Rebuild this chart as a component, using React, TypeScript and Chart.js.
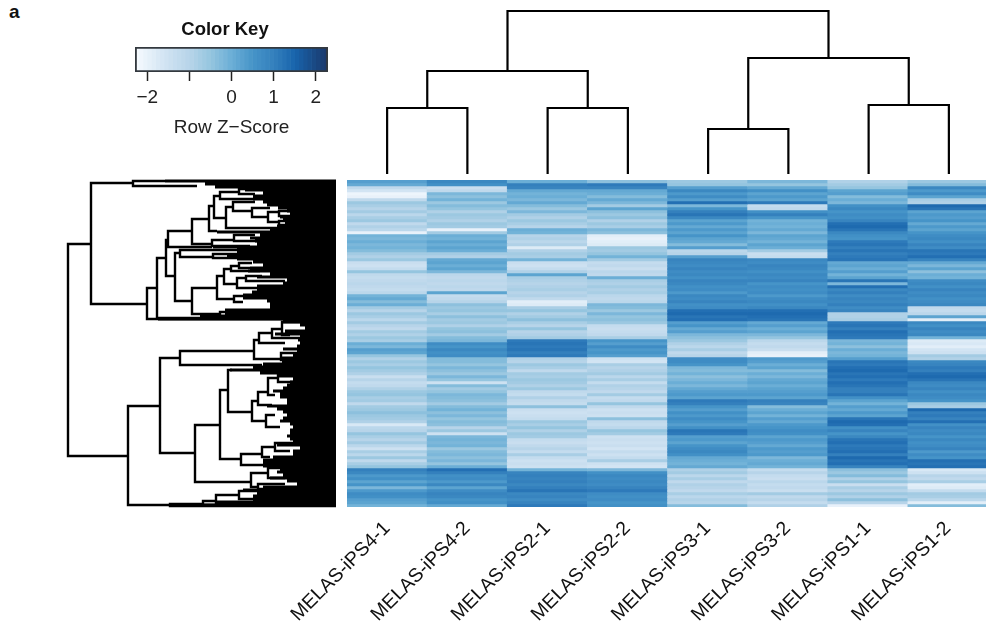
import React, { useEffect, useRef } from "react";
import { Chart, registerables } from "chart.js";

Chart.register(...registerables);

const FONT = '"Liberation Sans", Arial, sans-serif';

const samples = ["MELAS-iPS4-1", "MELAS-iPS4-2", "MELAS-iPS2-1", "MELAS-iPS2-2", "MELAS-iPS3-1", "MELAS-iPS3-2", "MELAS-iPS1-1", "MELAS-iPS1-2"];

const ips41 = [0.3,0.1,-1.2,-1.6,-2.1,-2.0,-1.2,-0.6,-0.8,-1.0,-0.7,-1.1,-0.8,-0.6,-1.2,-0.9,-1.1,-2.0,-0.1,-0.2,0,-0.2,-0.1,-0.3,-0.7,-0.9,-0.6,-1.4,-1.5,-1.3,-0.5,-1.2,-1.3,-1.2,-1.1,-1.2,-1.3,-1.1,-0.1,0.1,-0.3,0,-0.7,-1,-0.6,-0.8,-1.1,-0.7,-1.0,-1.2,-0.7,-0.9,-0.6,-0.8,0,-0.2,0.3,0.2,-0.5,-0.9,-0.6,-0.8,-0.5,-0.7,-0.9,-1.4,-1.0,-1.3,-1.2,-0.9,-0.6,-0.5,-0.8,-0.7,-1.2,-0.7,-0.6,-0.4,-0.6,-0.7,-0.9,-1.7,-1.1,-1.0,-0.5,-0.8,-1.0,-0.7,-1.1,-1.5,-0.8,-1.1,-0.6,-1.2,-0.8,-0.5,1.0,0.8,0.4,0.6,0.2,0.5,-0.2,0.4,0.7,0.6,0.3,0.2,-0.1];
const ips42 = [0.8,0.6,-1.4,-1.2,-0.2,-0.4,-0.1,-0.6,-0.3,-0.5,-0.9,-0.6,-0.7,-0.9,-0.6,-0.7,-2.0,-0.7,0,-0.1,0.2,0,0.2,0,-0.7,-0.9,0.1,0.2,0,0.2,-0.2,-1.1,-1.2,-1.1,-1.2,-1.1,-1.2,0.2,-1.3,-1.2,-1.0,-0.4,-0.6,-0.5,-0.8,-0.4,-0.7,-0.6,-0.9,-0.5,-0.4,-0.7,-0.3,-0.2,0.7,0.5,0.8,0.6,0.7,-0.3,-0.3,-0.5,-0.2,-0.4,-0.6,-0.2,-0.5,-1.5,-0.3,-0.7,-0.5,-0.2,-0.3,-0.4,-0.7,-0.3,-0.1,-0.4,-0.2,-0.5,-0.3,-0.4,-1.0,-0.6,-1.5,-0.2,-0.1,-0.2,-0.1,-0.6,-0.3,-0.2,-0.4,-0.2,-0.5,0,1.3,1.0,0.6,0.7,0.4,0.8,0.2,0.7,0.9,0.8,0.5,0.6,0.1];
const ips21 = [0,1.0,0.9,0.1,-0.1,0,-0.2,0.1,-0.3,-0.6,-0.2,-0.7,-0.9,-0.6,-0.8,-1.0,0,-0.1,-1.0,-0.9,-1.1,-0.9,-1.8,-0.9,-0.7,-0.8,-0.1,-1.4,-1.5,-1.3,-0.9,0.2,-0.8,-0.9,-1,-0.9,-0.8,-1,-0.9,-1.2,-1.9,-1.8,-0.8,-0.5,-0.9,-0.7,-0.4,-0.8,-1,-0.5,-1,-0.9,-0.7,1.1,1.2,1.1,1.2,1.0,1.1,-0.9,-1.0,-0.6,-0.8,-1.2,-0.7,-0.8,-0.6,-0.7,-0.9,-0.6,-1.2,-1.3,-0.9,-1.2,-1.3,-0.4,-1.4,-1.5,-1.4,-1.3,-0.6,-0.8,-0.5,-0.9,-0.6,-0.7,-1.3,-1.4,-1.2,-1.0,-1.3,-0.8,-1.3,-1.5,-1.4,-1.5,-0.1,0.9,1.0,0.9,1.0,0.8,1.0,1.2,0.8,0.9,0.7,0.9,1.1];
const ips22 = [-0.4,1.1,0.9,0.1,0,-0.3,0.1,-0.2,-0.7,0.2,-0.4,-0.6,-0.4,-0.9,-0.6,-0.8,-0.2,-0.4,-1.9,-2.0,-1.9,-1.8,-0.6,-0.7,-0.5,-0.1,-0.7,-1.3,-1.2,-1.4,-1.1,-1.2,0,-0.8,-0.9,-0.7,-0.9,-0.8,-1.1,-1.2,-1.1,-0.2,-0.3,-0.6,-0.2,-0.5,-0.4,-0.6,-1.3,-1.4,-1.3,-1.2,-0.8,0.5,0.3,0.7,0.4,0.5,0.3,-1.5,-1.6,-0.8,-1.0,-0.9,-0.7,-1.1,-0.8,-1.3,-0.9,-1.0,-1.2,-0.7,-1.3,-1.2,-0.5,-1.2,-1.5,-1.4,-1.5,-0.4,-1.2,-1.3,-1.1,-0.5,-0.7,-1.5,-1.4,-1.5,-1.4,-1.6,-1.3,-1.5,-1.3,-0.8,-1.5,-1.6,-0.2,0.6,0.8,0.7,0.8,0.7,0.9,1.1,0.7,0.6,0.7,0.5,0.6];
const ips31 = [-0.6,-0.5,0.3,0.8,0.4,0.7,0.3,1.3,-0.2,0.5,1.0,1.2,0.8,0.2,0.4,0.1,0.4,0.2,0.5,0.2,0.1,-0.3,0.3,-1.1,-1.0,0.3,0.9,0.8,0.7,0.9,0.7,0.8,0.6,0.9,0.8,0.6,0.7,0.4,0.8,0.7,0.9,0.6,0.7,1.3,1.4,1.2,1.3,0.3,0.5,0.1,0.3,-0.2,-0.4,-0.6,-0.9,-1.1,-0.8,-1.2,-1.0,0.7,0.7,0.5,-0.2,-0.3,-0.1,-0.4,-0.2,0,-0.2,0.1,0.3,0.4,0.2,1.1,1.0,0.5,0.3,0.6,0.4,0.7,0.5,0.3,0.6,1.2,1.1,0.3,0.4,0.2,0.5,0.7,0.8,0.6,0.1,0,-0.1,0.1,-0.9,-0.7,-1.1,-0.8,-1.2,-0.9,-1.0,-1.2,-0.8,-1.1,-0.9,-1.0,-0.3];
const ips32 = [-0.2,-0.5,0.1,0.6,0.2,0.4,0.2,1.1,-1.3,-1.2,0.6,1.0,0.5,-0.1,0,-0.1,0.1,-0.2,0.2,0.1,-0.1,0.2,0,-0.7,-1.4,-1.3,0.8,0.7,0.9,0.8,0.6,0.8,0.7,0.9,0.5,0.7,0.6,0.7,0.4,0.7,0.8,0.6,0.8,1.3,1.4,1.3,1.2,0.1,0.3,0,0.2,-0.2,-0.5,-1.1,-1.3,-1.2,-1.4,-1.9,-2.0,0.4,0.3,0,0.2,-0.3,0,-0.2,0.1,0.2,0,0.2,0.3,0.4,0.2,1.0,0.9,-0.3,0,0.2,-0.1,0.3,0.1,0.4,0.5,0.7,0.6,0.2,0.4,0.3,0.1,0.4,0.3,0.4,-0.2,0,0.1,-0.1,-1.3,-1.0,-1.3,-1.4,-1.1,-1.3,-1.2,-1.4,-0.7,-1.2,-1.0,-1.3,-0.9];
const ips11 = [-0.9,-0.7,-0.5,0.2,0.3,-0.3,0,-0.2,0.6,0.8,0.5,0.7,0.6,0.9,1.3,1.4,1.2,0.8,0.6,0.5,1.1,1.2,1.0,1.2,1.0,1.1,1.2,0.1,0.2,0,0.3,-0.1,0.2,1.2,-0.2,1.3,0.8,1.0,0.7,0.9,0.8,1.0,0.7,0.9,-0.9,-0.9,-0.8,1.1,1.2,1.0,1.3,1.2,1.1,-0.2,-0.1,-0.4,0,-0.2,-0.1,0.3,1.2,1.1,1.3,1.4,1.2,1.3,1.1,1.3,1.2,1.0,1.0,1.2,0.6,0.2,-0.1,0.3,0.1,0.4,0.2,1.2,1.4,1.3,0.6,0.9,0.5,0.8,1.2,1.3,1.1,1.2,1.3,1.0,1.4,1.2,1.3,0.9,-0.4,-0.6,-0.3,-0.9,-0.5,-1.4,-0.8,-1.0,-0.6,-0.9,-0.4,-1.0,-2.0];
const ips12 = [-0.6,-0.3,0.8,0.4,0.7,0.2,-0.8,-0.9,1.4,1.2,0.2,0.4,0.3,0.5,0.1,0.4,0.2,0.5,0.7,0.8,0.6,0.9,0.7,1.2,1.1,1.3,0.9,0.1,-0.2,0.2,-0.4,0,-0.1,0.7,0.8,0.6,0.9,0.7,0.8,0.6,0.7,0.8,-1.2,-1.3,-1.1,0.2,-1.9,0.8,0.6,0.9,0.7,0.8,-0.1,-1.8,-1.7,-1.9,-1.6,-1.5,-0.7,-0.9,0.8,0.9,1.1,1.0,1.3,1.4,1.2,0.8,0.7,0.9,0.6,0.8,0.7,0.5,-0.6,-0.8,1.4,1.0,1.1,0.9,1.3,0.6,0.9,0.7,0.8,0.5,0.8,0.6,0.7,0.9,0.4,0.7,0.5,1.3,1.2,1.3,-1.7,-1.5,-1.0,-1.2,-0.8,-1.9,-1.8,-1.3,-0.7,-0.8,-1.1,-1.9,-0.3];
const heatColumns = [ips41, ips42, ips21, ips22, ips31, ips32, ips11, ips12];

// Colour key
const keyBreaks = [-2.29,-2.2,-2.1,-2.0,-1.9,-1.8,-1.7,-1.6,-1.5,-1.4,-1.3,-1.2,-1.1,-1.0,-0.9,-0.8,-0.7,-0.6,-0.5,-0.4,-0.3,-0.2,-0.1,0.02,0.1,0.2,0.3,0.4,0.5,0.6,0.7,0.8,0.9,1.0,1.1,1.2,1.3,1.4,1.5,1.6,1.7,1.8,1.9,2.0,2.1,2.2,2.29];
const keyTicks = [-2, -1, 0, 1, 2];
const keyTickLabels = ["\u22122", "", "0", "1", "2"];

// Column dendrogram: [height, left position, right position, left child height, right child height]
const columnMerges = [
  [163, 2, 6, 103, 116],
  [103, 1, 3, 66, 66],
  [66, 0.5, 1.5, 0, 0],
  [66, 2.5, 3.5, 0, 0],
  [116, 5, 7, 45, 69],
  [45, 4.5, 5.5, 0, 0],
  [69, 6.5, 7.5, 0, 0],
];

// Row dendrogram: [height, upper row, lower row, upper child height, lower child height]
const rowMerges = [
  [268,64,276,245,208],[245,3,124,203,189],[203,1,6,171,139],[189,108,139,179,0],[179,78,138,170,136],
  [170,60,96,168,161],[168,51,67,144,124],[144,39,64,127,124],[127,26,51,122,119],[122,16,38,116,110],
  [116,12,19,97,81],[97,9,14,86,81],[110,27,48,103,53],[103,22,31,81,84],[84,28,37,66,68],
  [68,32,42,57,57],[57,31,36,46,46],[57,41,45,48,48],[124,60,66,102,86],[102,55,61,81,78],
  [161,73,121,156,144],[156,70,77,96,123],[123,74,78,96,96],[144,108,134,119,116],[119,96,119,112,102],
  [112,89,104,105,99],[105,86,91,97,76],[97,83,88,84,86],[99,98,108,90,79],[90,96,101,74,51],
  [102,116,122,86,93],[116,132,137,111,100],[208,226,325,176,166],[176,178,273,156,141],[156,171,185,82,74],
  [82,160,179,77,55],[77,153,163,64,51],[64,149,158,54,36],[54,142,155,36,46],[55,173,180,39,46],
  [141,245,302,116,85],[116,210,279,108,95],[108,190,232,104,84],[84,221,241,78,70],[78,212,225,68,64],
  [68,198,215,58,61],[58,193,202,46,43],[70,235,247,61,56],[95,274,285,74,66],[74,267,277,61,66],
  [61,263,271,41,46],[85,293,307,68,78],[68,288,298,56,51],[78,304,309,51,66],[166,324,326,133,0],
  [133,321,325,120,0],[120,315,323,97,0],[97,311,319,78,76],
];

// Height at which each block of leaves joins the tree, top to bottom
const leafHeights = [171,131,121,91,73,83,83,73,69,58,49,46,56,53,51,59,66,119,76,86,81,79,123,99,99,109,99,83,73,86,88,66,79,49,53,79,79,84,93,93,69,66,66,111,111,136,178,53,36,31,51,61,36,38,36,39,53,39,43,54,54,73,83,106,76,58,43,46,49,53,63,56,56,49,49,69,59,53,49,53,56,46,43,46,46,49,46,43,59,36,43,43,63,73,73,73,56,59,53,66,49,39,73,93,79,83,83,119,166];

const colorStops: [number, number[]][] = [
  [-2.29, [247, 251, 255]],
  [-1.5, [205, 225, 241]],
  [-1, [183, 212, 233]],
  [-0.5, [149, 197, 223]],
  [0, [107, 174, 214]],
  [0.5, [70, 148, 200]],
  [1, [52, 128, 189]],
  [1.5, [24, 100, 172]],
  [2.29, [27, 54, 104]],
];

function colorFor(z: number) {
  for (let i = 1; i < colorStops.length; i++) {
    const [z1, c1] = colorStops[i];
    const [z0, c0] = colorStops[i - 1];
    if (z <= z1) {
      const t = Math.max(0, (z - z0) / (z1 - z0));
      const c = c0.map((v, k) => Math.round(v + (c1[k] - v) * t));
      return `rgb(${c[0]},${c[1]},${c[2]})`;
    }
  }
  return "rgb(27,54,104)";
}

const BASE = {
  responsive: false,
  animation: false as const,
  events: [] as string[],
  plugins: { legend: { display: false }, tooltip: { enabled: false }, title: { display: false } },
  layout: { padding: 0 },
};

function columnTreePoints() {
  const pts: { x: number; y: number }[] = [];
  for (const [h, a, b, ha, hb] of columnMerges) {
    pts.push({ x: a, y: ha }, { x: a, y: h }, { x: b, y: h }, { x: b, y: hb }, { x: NaN, y: NaN });
  }
  return pts;
}

function rowTreePoints() {
  const pts: { x: number; y: number }[] = [];
  for (const [h, a, b, ha, hb] of rowMerges) {
    pts.push({ x: ha, y: a }, { x: h, y: a }, { x: h, y: b }, { x: hb, y: b }, { x: NaN, y: NaN });
  }
  return pts;
}

function leafPoints() {
  const pts: { x: number; y: number }[] = [];
  leafHeights.forEach((h, i) => {
    const row = 1 + i * 3;
    pts.push({ x: 0, y: row }, { x: h, y: row }, { x: NaN, y: NaN });
  });
  return pts;
}

function useChart(ref: React.RefObject<HTMLCanvasElement | null>, config: () => any) {
  useEffect(() => {
    if (!ref.current) return;
    const chart = new Chart(ref.current, config());
    return () => chart.destroy();
  }, []);
}

const sideSpacer = (width: number, position: string) => ({
  display: true,
  position,
  afterFit: (s: any) => {
    s.width = width;
  },
  grid: { display: false, drawTicks: false },
  border: { display: false },
  ticks: { display: false },
});

export default function App() {
  const keyRef = useRef<HTMLCanvasElement>(null);
  const topRef = useRef<HTMLCanvasElement>(null);
  const leftRef = useRef<HTMLCanvasElement>(null);
  const heatRef = useRef<HTMLCanvasElement>(null);

  useChart(keyRef, () => ({
    type: "bar",
    data: {
      labels: ["key"],
      datasets: [
        {
          data: [[keyBreaks[0], keyBreaks[keyBreaks.length - 1]]],
          backgroundColor: "rgba(0,0,0,0)",
          borderColor: "#33393f",
          borderWidth: 1.5,
          borderSkipped: false,
          order: 0,
        },
        ...keyBreaks.slice(1).map((hi, i) => ({
          data: [[keyBreaks[i], hi]],
          backgroundColor: colorFor((keyBreaks[i] + hi) / 2),
          borderWidth: 0,
          order: 1,
        })),
      ],
    },
    options: {
      ...BASE,
      indexAxis: "y",
      layout: { padding: 0 },
      datasets: { bar: { grouped: false, barPercentage: 1, categoryPercentage: 1 } },
      plugins: {
        ...BASE.plugins,
        title: {
          display: true,
          text: "Color Key",
          color: "#111",
          font: { family: FONT, size: 18.5, weight: "bold" },
          padding: { top: 4, bottom: 5.8 },
        },
      },
      scales: {
        y: { ...sideSpacer(35, "left"), type: "category" },
        yRight: { ...sideSpacer(22, "right"), type: "linear" },
        x: {
          type: "linear",
          min: keyBreaks[0],
          max: keyBreaks[keyBreaks.length - 1],
          afterBuildTicks: (s: any) => {
            s.ticks = keyTicks.map((v) => ({ value: v }));
          },
          afterFit: (s: any) => {
            s.height = 67;
            s.paddingLeft = 0;
            s.paddingRight = 0;
          },
          grid: { drawOnChartArea: false, drawTicks: true, tickLength: 9, tickWidth: 1.5, tickColor: "#222" },
          border: { display: false },
          ticks: {
            autoSkip: false,
            maxRotation: 0,
            padding: 5,
            color: "#222",
            font: { family: FONT, size: 19 },
            callback: (v: number) => keyTickLabels[keyTicks.indexOf(v)],
          },
          title: {
            display: true,
            text: "Row Z\u2212Score",
            color: "#222",
            font: { family: FONT, size: 19 },
            padding: { top: 2, bottom: 0 },
          },
        },
      },
    },
  }));

  useChart(topRef, () => ({
    type: "scatter",
    data: {
      datasets: [
        { data: columnTreePoints(), showLine: true, borderColor: "#000", borderWidth: 2.2, pointRadius: 0 },
      ],
    },
    options: {
      ...BASE,
      scales: {
        x: { display: false, type: "linear", min: 0, max: 8 },
        y: { display: false, type: "linear", min: -6, max: 169 },
      },
    },
  }));

  useChart(leftRef, () => ({
    type: "scatter",
    data: {
      datasets: [
        { data: leafPoints(), showLine: true, borderColor: "#000", borderWidth: 3.2, pointRadius: 0 },
        { data: rowTreePoints(), showLine: true, borderColor: "#000", borderWidth: 2.4, pointRadius: 0 },
      ],
    },
    options: {
      ...BASE,
      scales: {
        x: { display: false, type: "linear", min: 0, max: 276, reverse: true },
        y: { display: false, type: "linear", min: -4, max: 330, reverse: true },
      },
    },
  }));

  useChart(heatRef, () => ({
    type: "bar",
    data: {
      labels: samples,
      datasets: ips41.map((_, row) => ({
        label: `row ${row}`,
        data: heatColumns.map(() => 1),
        backgroundColor: heatColumns.map((col) => colorFor(col[row])),
        borderWidth: 0,
      })),
    },
    options: {
      ...BASE,
      layout: { padding: { left: 147, right: 0, top: 0, bottom: 0 } },
      datasets: { bar: { barPercentage: 1, categoryPercentage: 1 } },
      scales: {
        y: { display: false, stacked: true, reverse: true, min: 0, max: ips41.length },
        x: {
          stacked: true,
          afterFit: (s: any) => {
            s.height = 126;
            s.paddingLeft = 0;
            s.paddingRight = 0;
          },
          grid: { display: false, drawTicks: false },
          border: { display: false },
          ticks: {
            autoSkip: false,
            minRotation: 45,
            maxRotation: 45,
            padding: 10,
            color: "#111",
            font: { family: FONT, size: 19.5 },
          },
        },
      },
    },
  }));

  const abs = (left: number, top: number): React.CSSProperties => ({ position: "absolute", left, top });

  return (
    <div style={{ position: "fixed", left: 0, top: 0, width: 986, height: 633, overflow: "hidden", background: "#fff" }}>
      <div style={{ ...abs(9, 1), font: `bold 19px ${FONT}`, color: "#111" }}>a</div>
      <canvas ref={keyRef} width={250} height={124} style={abs(100, 15)} />
      <canvas ref={topRef} width={642} height={175} style={abs(347, 5)} />
      <canvas ref={leftRef} width={276} height={334} style={abs(60, 176)} />
      <canvas ref={heatRef} width={788} height={453} style={abs(200, 180)} />
    </div>
  );
}
